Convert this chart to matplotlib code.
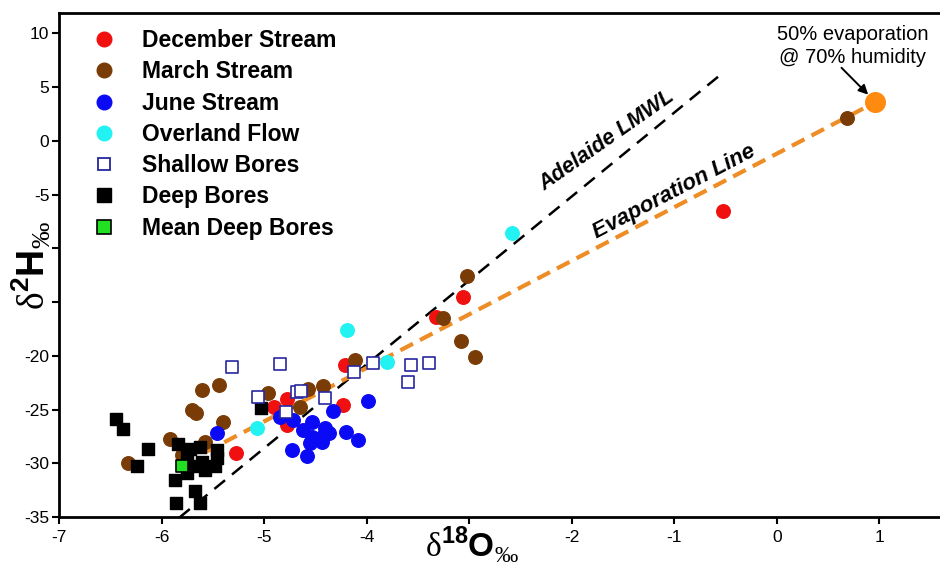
import numpy as np
import matplotlib.pyplot as plt
from matplotlib.lines import Line2D

plt.rcParams['font.family'] = ['Liberation Sans', 'DejaVu Sans']
plt.rcParams['mathtext.fontset'] = 'custom'
plt.rcParams['mathtext.rm'] = 'Liberation Serif'
plt.rcParams['mathtext.bf'] = 'Liberation Sans:bold'

# isotope data (d18O, d2H in permil)
dec_o = [-4.21, -4.23, -3.06, -3.32, -0.53, -5.27, -4.90, -4.78, -4.78]
dec_h = [-20.9, -24.6, -14.5, -16.4, -6.5, -29.0, -24.8, -24.0, -26.4]

mar_o = [0.68, -3.02, -3.26, -3.08, -2.94, -4.11, -4.43, -4.57, -4.65, -4.96,
         -5.44, -5.61, -5.70, -5.66, -5.40, -5.92, -5.58, -5.80, -6.33]
mar_h = [2.1, -12.6, -16.5, -18.6, -20.1, -20.4, -22.8, -23.1, -24.8, -23.5,
         -22.7, -23.2, -25.0, -25.3, -26.2, -27.7, -28.0, -29.2, -30.0]

jun_o = [-5.46, -3.99, -4.33, -4.85, -4.72, -4.53, -4.62, -4.41, -4.20,
         -4.53, -4.43, -4.37, -4.44, -4.55, -4.08, -4.73, -4.58]
jun_h = [-27.2, -24.2, -25.1, -25.7, -26.0, -26.2, -26.9, -26.7, -27.1,
         -27.6, -27.5, -27.2, -28.0, -28.1, -27.8, -28.8, -29.3]

over_o = [-2.58, -4.19, -3.80, -5.07]
over_h = [-8.6, -17.6, -20.6, -26.7]

shal_o = [-5.31, -4.85, -5.06, -4.79, -4.68, -4.64, -4.41, -4.12, -3.94, -3.57, -3.60, -3.39]
shal_h = [-21.0, -20.8, -23.8, -25.2, -23.4, -23.3, -23.9, -21.5, -20.7, -20.9, -22.4, -20.7]

deep_o = [-6.44, -6.38, -6.13, -6.24, -5.84, -5.72, -5.63, -5.75, -5.46, -5.46,
          -5.61, -5.70, -5.58, -5.48, -5.75, -5.87, -5.67, -5.86, -5.63, -5.03]
deep_h = [-25.9, -26.8, -28.7, -30.3, -28.2, -28.7, -28.5, -29.2, -28.8, -29.5,
          -29.9, -30.3, -30.6, -30.3, -30.9, -31.6, -32.6, -33.7, -33.7, -24.9]

mean_deep_o = [-5.80]
mean_deep_h = [-30.3]

evap_pt_o = [0.96]
evap_pt_h = [3.6]

# Adelaide LMWL and evaporation line
lmwl_slope, lmwl_icpt = 7.81, 10.45
lmwl_o = np.array([-6.0, -0.56])
lmwl_h = lmwl_slope * lmwl_o + lmwl_icpt
evap_line_o = [-5.58, 0.96]
evap_line_h = [-29.0, 3.6]

x_ticks = [-7, -6, -5, -4, -3, -2, -1, 0, 1]
x_labels = ['-7', '-6', '-5', '-4', '', '-2', '-1', '0', '1']
y_ticks = [-35, -30, -25, -20, -15, -10, -5, 0, 5, 10]
y_labels = ['-35', '-30', '-25', '-20', '', '', '-5', '0', '5', '10']

RED = '#f01010'
BROWN = '#7a3c06'
BLUE = '#0a0af5'
CYAN = '#22f2f2'
NAVY = '#2828a0'
ORANGE = '#ee8c25'

fig = plt.figure(figsize=(9.4, 5.64), dpi=100)
ax = fig.add_axes([59 / 940, 47 / 564, 881 / 940, 504 / 564])
ax.set_xlim(-7, 1.59)
ax.set_ylim(-35, 11.9)

ax.plot(lmwl_o, lmwl_h, color='black', lw=1.8, dashes=(5.5, 3.6), zorder=2)
ax.plot(evap_line_o, evap_line_h, color=ORANGE, lw=3, dashes=(3.4, 1.9), zorder=2)

ms_c = 95
ms_s = 82
ax.scatter(dec_o, dec_h, s=ms_c, color=RED, zorder=3)
ax.scatter(mar_o, mar_h, s=ms_c, color=BROWN, zorder=3)
ax.scatter(jun_o, jun_h, s=ms_c, color=BLUE, zorder=3)
ax.scatter(over_o, over_h, s=ms_c, color=CYAN, zorder=3)
ax.scatter(deep_o, deep_h, s=ms_s, marker='s', color='black', zorder=4)
ax.scatter(shal_o, shal_h, s=72, marker='s', facecolor='white', edgecolor=NAVY,
           linewidth=1.2, zorder=5)
ax.scatter(mean_deep_o, mean_deep_h, s=ms_s, marker='s', facecolor='#22e022',
           edgecolor='black', linewidth=1.2, zorder=6)
ax.scatter(evap_pt_o, evap_pt_h, s=200, color='#ff8a10', zorder=6)

# rotated line labels, angle taken from the screen slope of each line
def screen_angle(xs, ys):
    p = ax.transData.transform(np.column_stack([xs, ys]))
    return np.degrees(np.arctan2(p[1, 1] - p[0, 1], p[1, 0] - p[0, 0]))

ax.text(-1.66, 0.0, 'Adelaide LMWL', fontsize=15.5, fontweight='bold', style='italic',
        rotation=35, ha='center', va='center', rotation_mode='anchor')
ax.text(-1.0, -4.75, 'Evaporation Line', fontsize=16, fontweight='bold', style='italic',
        rotation=screen_angle(evap_line_o, evap_line_h), ha='center', va='center',
        rotation_mode='anchor')

ax.text(0.74, 8.85, '50% evaporation\n@ 70% humidity', fontsize=14.5, ha='center',
        va='center', linespacing=1.3)
ax.annotate('', xy=(0.89, 4.3), xytext=(0.63, 6.8),
            arrowprops=dict(arrowstyle='-|>', color='black', lw=1.4, mutation_scale=14,
                            shrinkA=0, shrinkB=0))

ax.set_xticks(x_ticks)
ax.set_xticklabels(x_labels)
ax.set_yticks(y_ticks)
ax.set_yticklabels(y_labels)
ax.tick_params(direction='out', length=5, width=1.5, labelsize=12.5)
ax.tick_params(axis='y', pad=2)
ax.tick_params(axis='x', pad=4)
for side in ['left', 'bottom', 'top']:
    ax.spines[side].set_linewidth(2)
ax.spines['right'].set_visible(False)

fig.text(472 / 940, 1 - 524 / 564, r'$\mathrm{\delta}^{\mathbf{18}}\mathbf{O}_{‰}$',
         fontsize=24, ha='center', va='top')
fig.text(31 / 940, 1 - 266 / 564, r'$\mathrm{\delta}^{\mathbf{2}}\mathbf{H}_{‰}$',
         fontsize=27, ha='center', va='center', rotation=90)

handles = [
    Line2D([], [], ls='', marker='o', ms=10.5, color=RED),
    Line2D([], [], ls='', marker='o', ms=10.5, color=BROWN),
    Line2D([], [], ls='', marker='o', ms=10.5, color=BLUE),
    Line2D([], [], ls='', marker='o', ms=10.5, color=CYAN),
    Line2D([], [], ls='', marker='s', ms=9, markerfacecolor='white',
           markeredgecolor=NAVY, markeredgewidth=1.3),
    Line2D([], [], ls='', marker='s', ms=9.5, color='black'),
    Line2D([], [], ls='', marker='s', ms=9.5, markerfacecolor='#22e022',
           markeredgecolor='black', markeredgewidth=1.2),
]
names = ['December Stream', 'March Stream', 'June Stream', 'Overland Flow',
         'Shallow Bores', 'Deep Bores', 'Mean Deep Bores']
leg = ax.legend(handles, names, loc='upper left', bbox_to_anchor=(0.038, 0.968),
                frameon=False, borderaxespad=0, borderpad=0, handlelength=1.0,
                handletextpad=1.15, labelspacing=0.36,
                prop={'weight': 'bold', 'size': 16.5})

fig.savefig('out.png', dpi=100)
